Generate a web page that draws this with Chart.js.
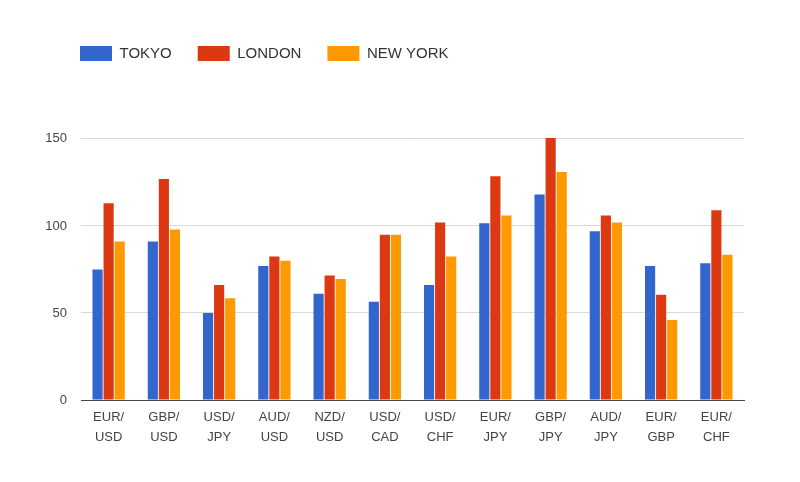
<!DOCTYPE html>
<html>
<head>
<meta charset="utf-8">
<script src="https://cdn.jsdelivr.net/npm/chart.js@4"></script>
<style>
  html, body { margin: 0; padding: 0; background: #fff; }
  #wrap { width: 800px; height: 482px; }
</style>
</head>
<body>
<div id="wrap"><canvas id="chart"></canvas></div>
<script>
const pairs = [
  ['EUR/', 'USD'], ['GBP/', 'USD'], ['USD/', 'JPY'], ['AUD/', 'USD'],
  ['NZD/', 'USD'], ['USD/', 'CAD'], ['USD/', 'CHF'], ['EUR/', 'JPY'],
  ['GBP/', 'JPY'], ['AUD/', 'JPY'], ['EUR/', 'GBP'], ['EUR/', 'CHF']
];
const tokyo = [75, 91, 50, 77, 61, 56.5, 66, 101.5, 118, 97, 77, 78.5];
const london = [113, 127, 66, 82.5, 71.5, 95, 102, 128.5, 150.5, 106, 60.5, 109];
const newYork = [91, 98, 58.5, 80, 69.5, 95, 82.5, 106, 131, 102, 46, 83.5];
const yTicks = [0, 50, 100, 150];

// push the legend right so it lines up with the plot's left edge
const legendShift = {
  id: 'legendShift',
  afterLayout(chart) {
    if (chart.legend) {
      chart.legend.left += 54;
      chart.legend.right += 54;
    }
  }
};

const ctx = document.getElementById('chart').getContext('2d');
new Chart(ctx, {
  type: 'bar',
  data: {
    labels: pairs,
    datasets: [
      { label: 'TOKYO', data: tokyo, backgroundColor: '#3366cc' },
      { label: 'LONDON', data: london, backgroundColor: '#dc3912' },
      { label: 'NEW YORK', data: newYork, backgroundColor: '#ff9900' }
    ]
  },
  plugins: [legendShift],
  options: {
    responsive: true,
    maintainAspectRatio: false,
    animation: false,
    layout: { padding: { left: 0, right: 56, top: 20, bottom: 27 } },
    datasets: {
      bar: { categoryPercentage: 0.6, barPercentage: 0.92, borderWidth: 0 }
    },
    plugins: {
      legend: {
        position: 'top',
        align: 'start',
        labels: {
          boxWidth: 32,
          boxHeight: 15,
          padding: 26,
          color: '#333',
          font: { family: 'Arial, "Liberation Sans", sans-serif', size: 15 }
        }
      },
      tooltip: { enabled: false }
    },
    scales: {
      x: {
        grid: { display: false, drawTicks: false },
        border: { display: true, color: '#444', width: 1 },
        ticks: {
          padding: 8,
          maxRotation: 0,
          autoSkip: false,
          color: '#444',
          font: { family: 'Arial, "Liberation Sans", sans-serif', size: 13, lineHeight: 1.5 }
        }
      },
      y: {
        min: 0,
        max: 189,
        afterBuildTicks: (scale) => {
          scale.ticks = yTicks.map(v => ({ value: v }));
        },
        afterFit: (scale) => { scale.width = 81; },
        border: { display: false },
        grid: {
          drawTicks: false,
          color: (c) => c.tick && c.tick.value === 0 ? 'rgba(0,0,0,0)' : '#d9d9d9'
        },
        ticks: {
          padding: 14,
          color: '#444',
          font: { family: 'Arial, "Liberation Sans", sans-serif', size: 13 }
        }
      }
    }
  }
});
</script>
</body>
</html>
